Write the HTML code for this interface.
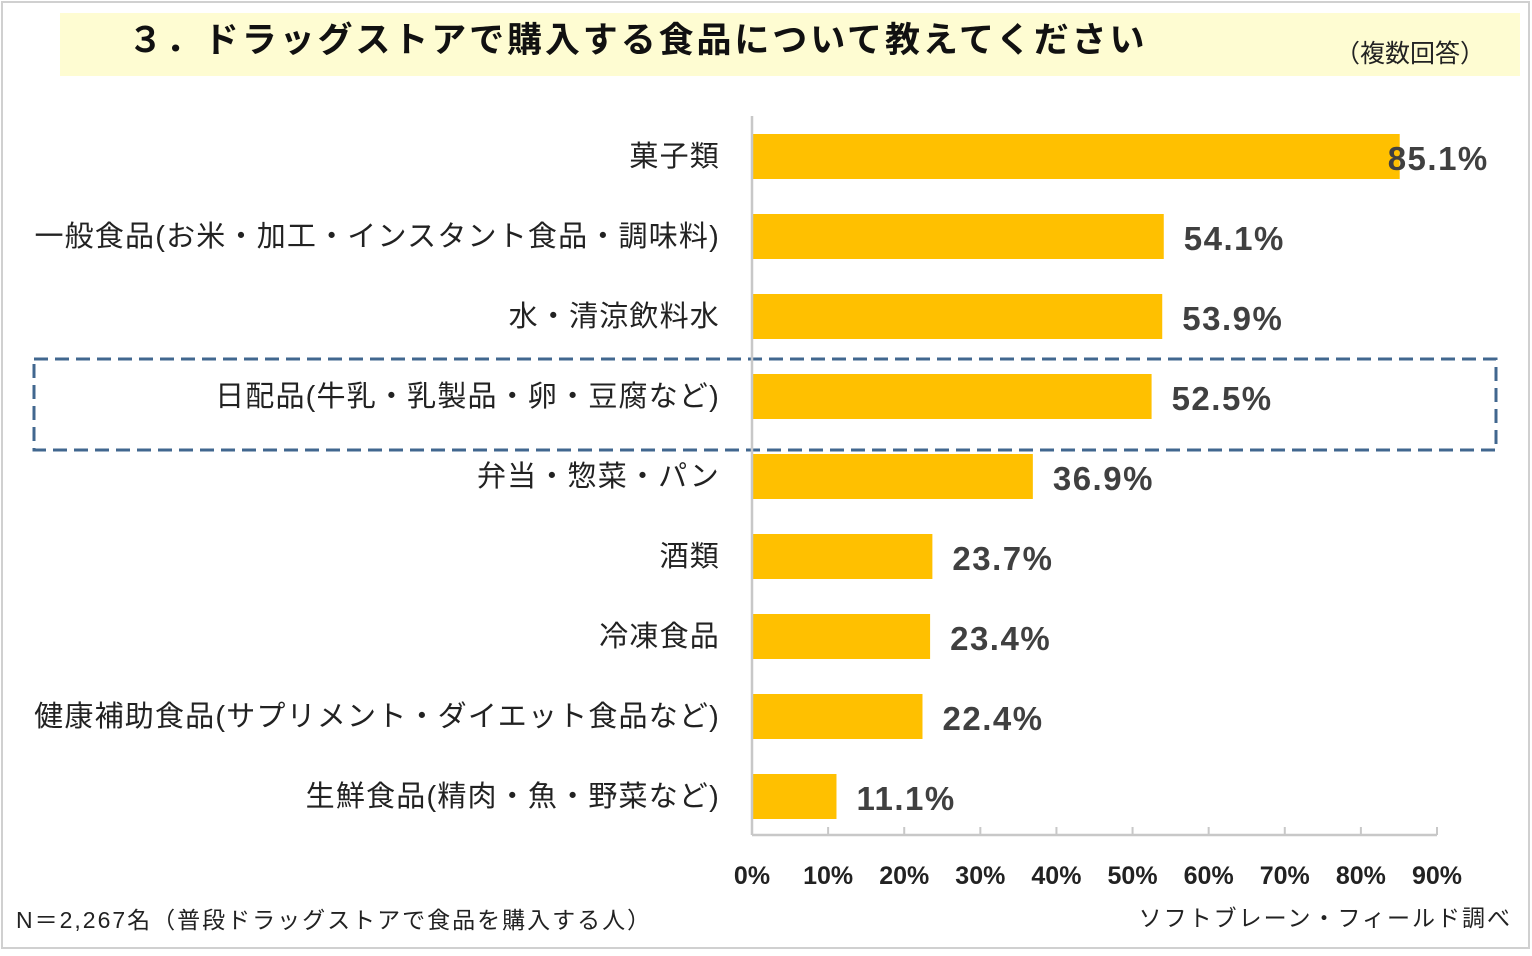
<!DOCTYPE html>
<html><head><meta charset="utf-8"><style>
body{margin:0;background:#fff;}
svg{display:block;font-family:"Liberation Sans","Noto Sans CJK JP",sans-serif;}
</style></head><body>
<svg id="c" width="1532" height="956">
<rect x="2" y="2" width="1527" height="946" fill="#fff" stroke="#d0d0d0" stroke-width="2"/>
<rect x="60" y="13" width="1460" height="63" fill="#fefcd2"/>
<text x="128" y="52" font-size="35" font-weight="bold" fill="#111" letter-spacing="2.9">３．ドラッグストアで購入する食品について教えてください</text>
<text x="1485" y="62" font-size="25" fill="#222" text-anchor="end">（複数回答）</text>
<rect x="34" y="359" width="1462" height="91" fill="none" stroke="#41678f" stroke-width="3" stroke-dasharray="14,7"/>
<g id="bars"></g>
<text x="16" y="928" font-size="23" fill="#222" letter-spacing="2">N＝2,267名（普段ドラッグストアで食品を購入する人）</text>
<text x="1512" y="926" font-size="23" fill="#222" text-anchor="end" letter-spacing="2">ソフトブレーン・フィールド調べ</text>
</svg>
<script>
const categories=["菓子類","一般食品(お米・加工・インスタント食品・調味料)","水・清涼飲料水","日配品(牛乳・乳製品・卵・豆腐など)","弁当・惣菜・パン","酒類","冷凍食品","健康補助食品(サプリメント・ダイエット食品など)","生鮮食品(精肉・魚・野菜など)"];
const values=[85.1,54.1,53.9,52.5,36.9,23.7,23.4,22.4,11.1];
const tickLabels=["0%","10%","20%","30%","40%","50%","60%","70%","80%","90%"];
const tickValues=[0,10,20,30,40,50,60,70,80,90];
const NS="http://www.w3.org/2000/svg";
const g=document.getElementById('bars');
const x=v=>752+v*(1437-752)/90;
const yC=i=>156+i*80;
function mk(t,a){const e=document.createElementNS(NS,t);for(const k in a)e.setAttribute(k,a[k]);g.appendChild(e);return e;}
categories.forEach((c,i)=>{
 const r=mk('rect',{x:x(0),y:yC(i)-22,width:x(values[i])-x(0),height:45,fill:'#ffc000'});
 
 
 const l=mk('text',{x:720,y:yC(i)+10,'font-size':29,fill:'#222','text-anchor':'end','letter-spacing':1.2});l.textContent=c;
 
 
 const vl=mk('text',{x:x(values[i])+(i==0?-12:20),y:yC(i)+14,'font-size':33,'font-weight':'bold',fill:'#404040','letter-spacing':1.5});vl.textContent=values[i].toFixed(1)+'%';
 
 
});
const ax=mk('line',{x1:x(0),y1:835,x2:x(90),y2:835,stroke:'#c8c8c8','stroke-width':2.5});


const ay=mk('line',{x1:x(0),y1:116,x2:x(0),y2:835,stroke:'#c8c8c8','stroke-width':2.5});


tickValues.forEach((v,i)=>{
 const t=mk('line',{x1:x(v),y1:827,x2:x(v),y2:835,stroke:'#c8c8c8','stroke-width':2});
 
 
 const tl=mk('text',{x:x(v),y:884,'font-size':25,'font-weight':'bold',fill:'#222','text-anchor':'middle'});tl.textContent=tickLabels[i];
 
 
});
</script>
</body></html>
